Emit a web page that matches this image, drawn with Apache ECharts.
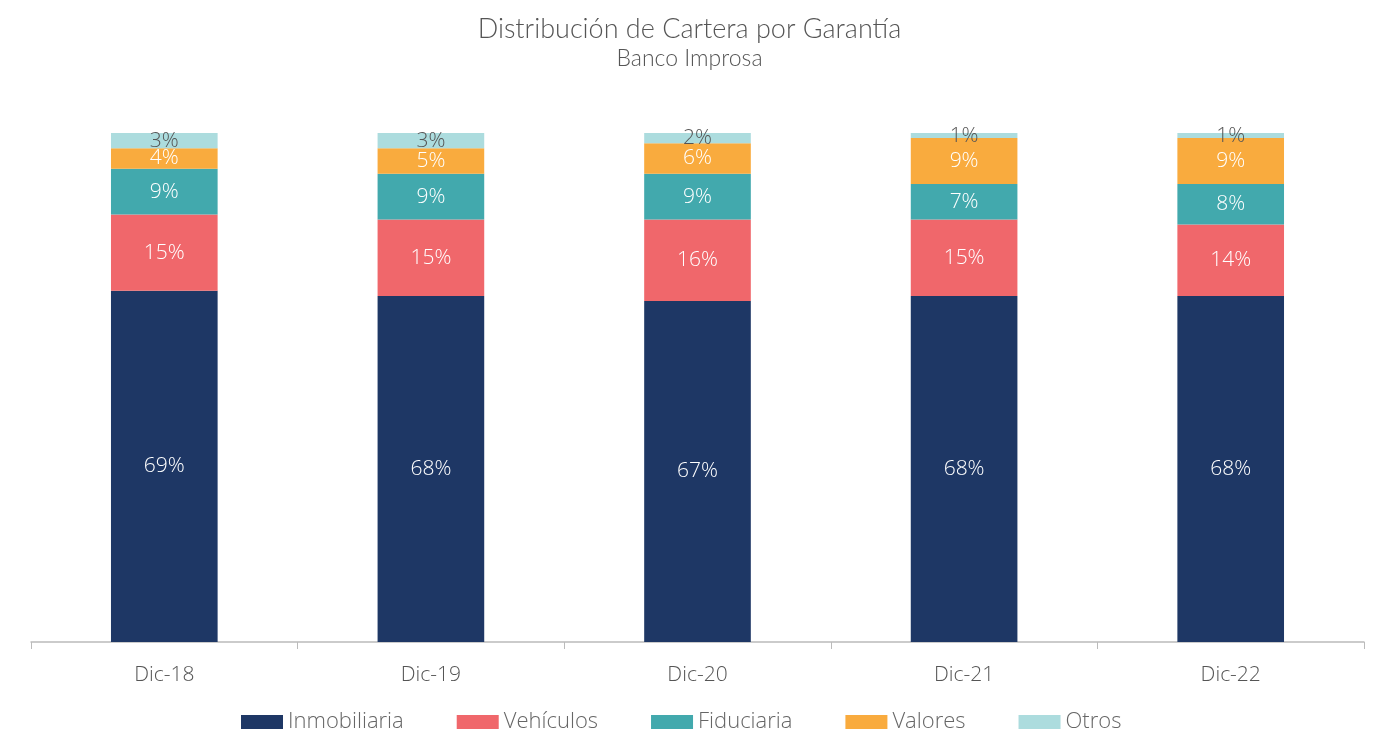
<!DOCTYPE html>
<html>
<head>
<meta charset="utf-8">
<script src="https://cdn.jsdelivr.net/npm/echarts@6/dist/echarts.min.js"></script>
<style>
  html, body { margin: 0; padding: 0; background: #fff; }
  #chart { width: 1379px; height: 731px; }
</style>
</head>
<body>
<div id="chart"></div>
<script>
// datos (% de cartera)
const periodos = ["Dic-18", "Dic-19", "Dic-20", "Dic-21", "Dic-22"];
const inmobiliaria = [69, 68, 67, 68, 68];
const vehiculos = [15, 15, 16, 15, 14];
const fiduciaria = [9, 9, 9, 7, 8];
const valores = [4, 5, 6, 9, 9];
const otros = [3, 3, 2, 1, 1];

const fuenteTitulo = "Lato, sans-serif";
const fuente = "'Open Sans', sans-serif";

function serie(nombre, datos, color, colorTexto) {
  return {
    name: nombre,
    type: "bar",
    stack: "total",
    barWidth: "40%",
    data: datos,
    itemStyle: { color: color },
    label: {
      show: true,
      position: "inside",
      formatter: "{c}%",
      color: colorTexto,
      fontSize: 21,
      fontWeight: 300,
      fontFamily: fuente
    }
  };
}

const myChart = echarts.init(document.getElementById("chart"));
const option = {
  animation: false,
  title: {
    text: "Distribución de Cartera por Garantía",
    subtext: "Banco Improsa",
    left: "center",
    top: 11,
    itemGap: 4,
    textStyle: { fontSize: 27, fontWeight: 300, color: "#555", fontFamily: fuenteTitulo },
    subtextStyle: { fontSize: 23, fontWeight: 300, color: "#555", fontFamily: fuenteTitulo }
  },
  legend: {
    top: 706,
    left: 236,
    itemWidth: 42,
    itemHeight: 14,
    itemGap: 53,
    icon: "rect",
    textStyle: { fontSize: 22, color: "#666", fontFamily: fuente, fontWeight: 300 }
  },
  grid: { left: 31, right: 15, top: 133, bottom: 89 },
  xAxis: {
    type: "category",
    data: periodos,
    axisLine: { lineStyle: { color: "#bbb", width: 1.5 } },
    axisTick: { show: true, length: 7, lineStyle: { color: "#bbb" } },
    axisLabel: { fontSize: 21, fontWeight: 300, color: "#555", margin: 23, fontFamily: fuente }
  },
  yAxis: {
    type: "value",
    min: 0,
    max: 100,
    show: false
  },
  series: [
    serie("Inmobiliaria", inmobiliaria, "#1e3765", "#fff"),
    serie("Vehículos", vehiculos, "#f0676b", "#fff"),
    serie("Fiduciaria", fiduciaria, "#42a9ad", "#fff"),
    serie("Valores", valores, "#f9ab3e", "#fff"),
    serie("Otros", otros, "#acdcde", "#555")
  ]
};
myChart.setOption(option);
</script>
</body>
</html>
